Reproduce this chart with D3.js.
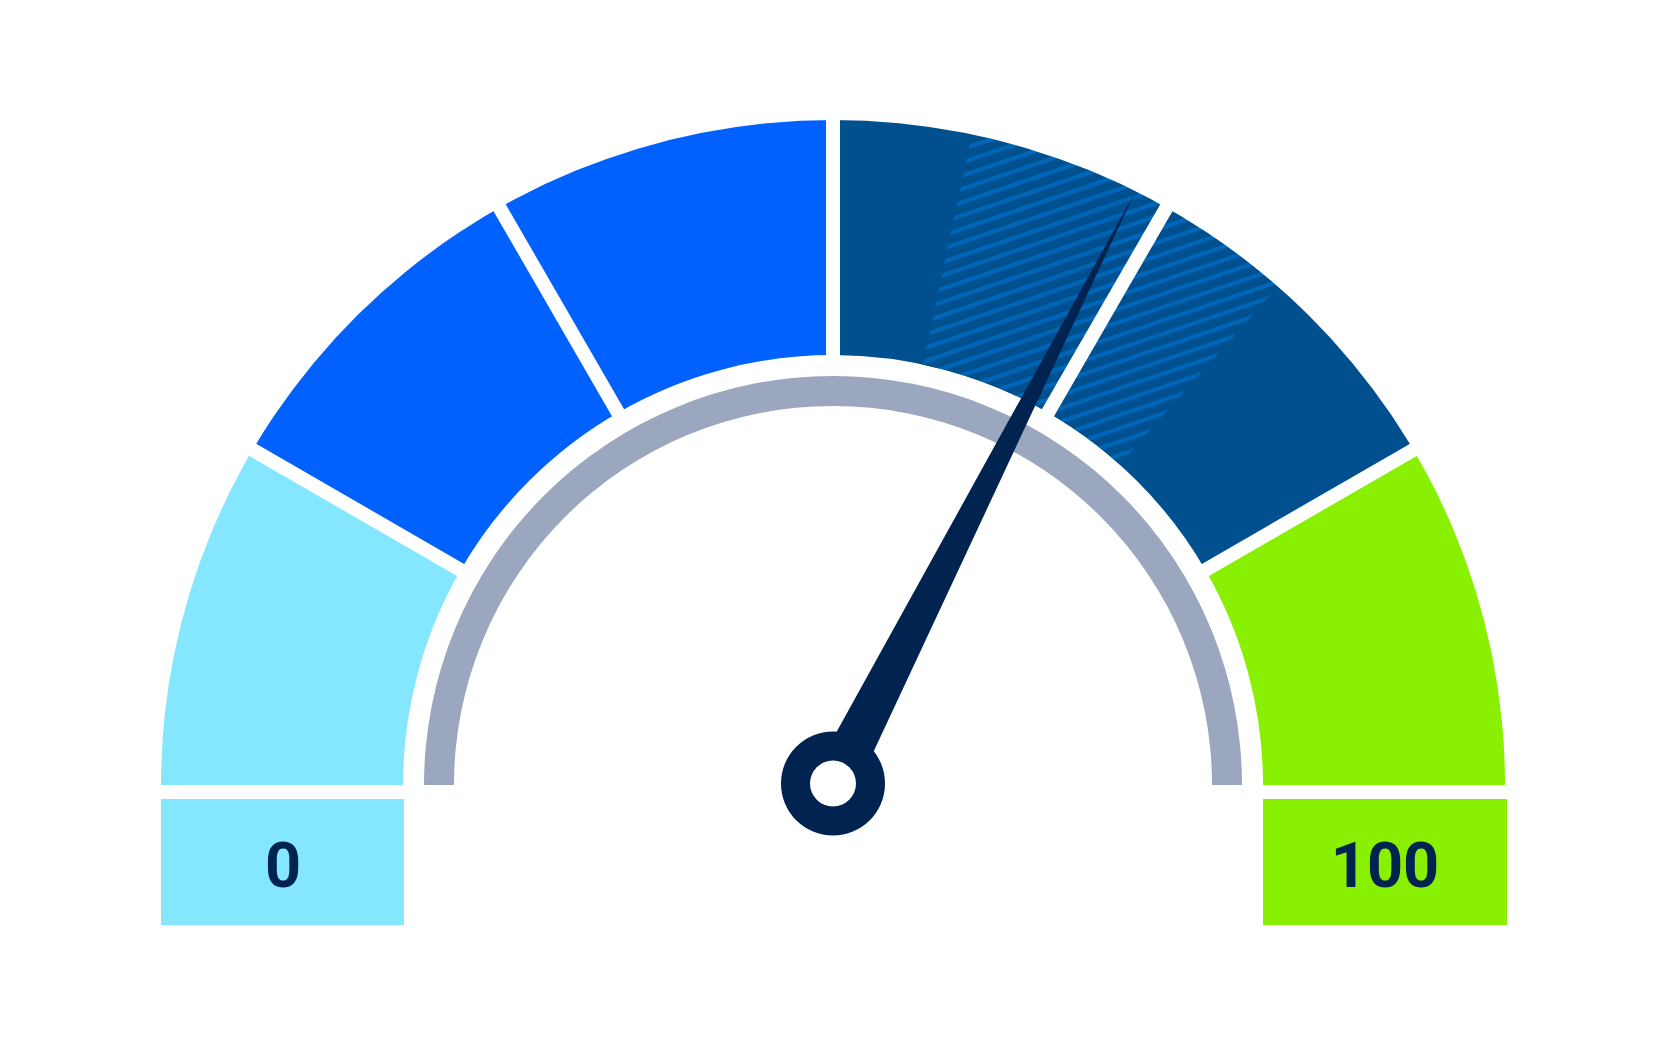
<!DOCTYPE html>
<html>
<head>
<meta charset="utf-8">
<script src="https://cdn.jsdelivr.net/npm/d3@7"></script>
<style>
  body { margin: 0; background: #fff; }
</style>
</head>
<body>
<div id="gauge"></div>
<script>
// Gauge data
const bandEdges = [0, 16.67, 33.33, 50, 66.67, 83.33, 100];
const bandColors = ["#85E7FF", "#0061FF", "#0061FF", "#004F8F", "#004F8F", "#88F000"];
const targetRange = [56.7, 73.2];
const gaugeValue = 65;
const endLabels = ["0", "100"];

const width = 1667, height = 1042;
const cx = 833, cy = 785;
const rInner = 430, rOuterX = 672, rOuterY = 665;
const navy = "#00234F";

const svg = d3.select("#gauge").append("svg")
  .attr("width", width)
  .attr("height", height);

const g = svg.append("g")
  .attr("transform", "translate(" + cx + "," + cy + ")");

// value -> angle (0 at left, 100 at right)
const angle = d3.scaleLinear().domain([0, 100]).range([-Math.PI / 2, Math.PI / 2]);

const defs = svg.append("defs");

// outer edge is a touch flatter than a circle (mask keeps it smooth)
const mask = defs.append("mask")
  .attr("id", "outerMask")
  .attr("maskUnits", "userSpaceOnUse")
  .attr("x", -800).attr("y", -800)
  .attr("width", 1600).attr("height", 1000);
mask.append("ellipse")
  .attr("rx", rOuterX)
  .attr("ry", rOuterY)
  .attr("fill", "#fff");

// stripes for target range
const pat = defs.append("pattern")
  .attr("id", "hatch")
  .attr("patternUnits", "userSpaceOnUse")
  .attr("width", 40)
  .attr("height", 12.6)
  .attr("patternTransform", "rotate(-18.7)");
pat.append("rect")
  .attr("width", 40)
  .attr("height", 12.6)
  .attr("fill", "#004F8F");
pat.append("rect")
  .attr("y", 4)
  .attr("width", 40)
  .attr("height", 4.2)
  .attr("fill", "#0066B8");

const band = d3.arc()
  .innerRadius(rInner)
  .outerRadius(rOuterX + 10);

const bands = g.append("g")
  .attr("mask", "url(#outerMask)");

// coloured bands
bands.selectAll(".band")
  .data(bandColors)
  .enter().append("path")
  .attr("class", "band")
  .attr("d", (d, i) => band({ startAngle: angle(bandEdges[i]), endAngle: angle(bandEdges[i + 1]) }))
  .attr("fill", d => d);

// hatched target range
bands.append("path")
  .attr("d", band({ startAngle: angle(targetRange[0]), endAngle: angle(targetRange[1]) }))
  .attr("fill", "url(#hatch)");

// white gaps between bands
g.selectAll(".gap")
  .data(bandEdges.slice(1, -1))
  .enter().append("line")
  .attr("class", "gap")
  .attr("x1", d => Math.sin(angle(d)) * (rInner - 10))
  .attr("y1", d => -Math.cos(angle(d)) * (rInner - 10))
  .attr("x2", d => Math.sin(angle(d)) * (rOuterX + 10))
  .attr("y2", d => -Math.cos(angle(d)) * (rOuterX + 10))
  .attr("stroke", "#fff")
  .attr("stroke-width", 14);

// grey inner ring
g.append("path")
  .attr("d", d3.arc().innerRadius(379).outerRadius(409)({ startAngle: angle(0), endAngle: angle(100) }))
  .attr("fill", "#9BA6BF");

// end label boxes
const boxes = g.selectAll(".endbox")
  .data(endLabels)
  .enter().append("g")
  .attr("class", "endbox")
  .attr("transform", (d, i) => "translate(" + (i === 0 ? -rOuterX : rInner) + ",14)");

boxes.append("rect")
  .attr("width", (d, i) => i === 0 ? rOuterX - rInner + 1 : rOuterX - rInner + 2)
  .attr("height", 126)
  .attr("fill", (d, i) => i === 0 ? bandColors[0] : bandColors[bandColors.length - 1]);

boxes.append("text")
  .attr("x", (rOuterX - rInner) / 2 + 1)
  .attr("y", 88)
  .attr("text-anchor", "middle")
  .attr("font-family", "Roboto, 'Open Sans', sans-serif")
  .attr("font-size", 63)
  .attr("font-weight", 700)
  .attr("fill", navy)
  .text(d => d);

// needle
const a = angle(gaugeValue);
const tipLen = 665, baseHalf = 22.6;
const needlePts = [
  [Math.cos(a) * baseHalf, Math.sin(a) * baseHalf],
  [Math.sin(a) * tipLen, -Math.cos(a) * tipLen],
  [-Math.cos(a) * baseHalf, -Math.sin(a) * baseHalf]
];
g.append("path")
  .attr("d", d3.line()(needlePts) + "Z")
  .attr("fill", navy);

// hub
g.append("circle")
  .attr("cy", -1.5)
  .attr("r", 52)
  .attr("fill", navy);
g.append("circle")
  .attr("cy", -1.5)
  .attr("r", 23)
  .attr("fill", "#fff");
</script>
</body>
</html>
